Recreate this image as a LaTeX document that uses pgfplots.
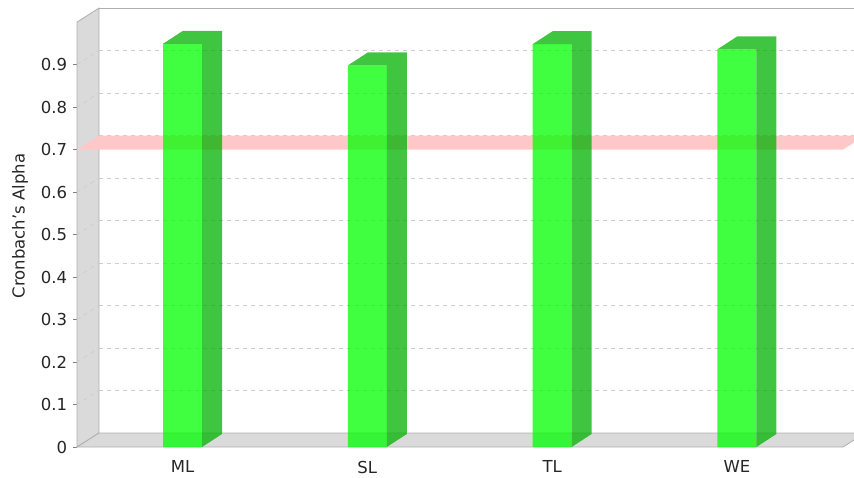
\documentclass[border=0pt]{standalone}
\usepackage{pgfplots}
\usepackage{pgfplotstable}
\pgfplotsset{compat=1.18}
\usepackage{fontspec}
\setmainfont{DejaVu Sans}
\definecolor{wallfill}{RGB}{218,218,218}
\definecolor{walledge}{RGB}{175,175,175}
\definecolor{bandpink}{RGB}{255,200,200}
\definecolor{barfront}{RGB}{0,255,0}
\definecolor{barside}{RGB}{0,178,0}
\definecolor{gridc}{RGB}{205,205,205}
\pgfplotstableread{
x v
0 0.949
1 0.898
2 0.948
3 0.936
}\cadata
\pgfplotstableread{
x y
-0.571 0.7
3.574 0.7
3.693 0.733
-0.452 0.733
}\banddata
\newcommand{\chartfont}{\fontsize{8.25}{9.9}\selectfont}
\begin{document}
\chartfont
\begin{tikzpicture}
\path[use as bounding box] (0,0) rectangle (427pt,238.5pt);
\begin{axis}[
  at={(38.5pt,15pt)}, anchor=south west,
  scale only axis, width=383pt, height=212.45pt,
  xmin=-0.571, xmax=3.574, ymin=0, ymax=1,
  clip=false,
  axis lines*=left,
  x axis line style={draw=none},
  y axis line style={draw=walledge},
  xtick={0,1,2,3}, xticklabels={ML,SL,TL,WE},
  xtick style={draw=none},
  ytick={0,0.1,0.2,0.3,0.4,0.5,0.6,0.7,0.8,0.9},
  ytick style={draw=gray},
  tick align=outside, major tick length=2pt,
  ymajorgrids,
  major grid style={draw=gridc, dash pattern=on 2pt off 2pt, shift={(11pt,7pt)}},
  /pgf/number format/assume math mode=true,
  tick label style={font=\chartfont, text=black!85},
  xticklabel style={yshift=-2pt},
  ylabel={Cronbach's Alpha},
  ylabel style={at={(axis description cs:-0.0744,0.52)}, anchor=center, font=\chartfont, text=black!85},
]
% walls
\fill[wallfill, draw=walledge] (rel axis cs:0,0) -- (rel axis cs:0,1) -- ([shift={(11pt,7pt)}]rel axis cs:0,1) -- ([shift={(11pt,7pt)}]rel axis cs:0,0) -- cycle;
\fill[wallfill, draw=walledge] (rel axis cs:0,0) -- (rel axis cs:1,0) -- ([shift={(11pt,7pt)}]rel axis cs:1,0) -- ([shift={(11pt,7pt)}]rel axis cs:0,0) -- cycle;
\draw[walledge] ([shift={(11pt,7pt)}]rel axis cs:0,1) -- ([shift={(11pt,7pt)}]rel axis cs:1,1) -- ([shift={(11pt,7pt)}]rel axis cs:1,0);
\pgfplotsinvokeforeach{0.1,0.2,0.3,0.4,0.5,0.6,0.8,0.9}{
  \draw[gridc, dash pattern=on 2pt off 2pt] (axis cs:-0.571,#1) -- ([shift={(11pt,7pt)}]axis cs:-0.571,#1);
}
% reference band at 0.7
\addplot[fill=bandpink, draw=none] table[x=x,y=y]{\banddata} -- cycle;
% bars: front faces
\addplot[ybar, bar width=19.5pt, bar shift=0pt, fill=barfront, fill opacity=0.75, draw=none] table[x=x,y=v]{\cadata};
% bars: top and side faces
\addplot[scatter, only marks, mark=*, mark size=0.01pt, mark options={draw opacity=0, fill opacity=0},
  visualization depends on={rawy \as \val},
  scatter/@pre marker code/.code={%
    \fill[barside, fill opacity=0.75] (-9.75pt,0pt) -- (9.75pt,0pt) -- (9.75pt,{-\val*212.45pt}) -- (19.75pt,{6.5pt-\val*212.45pt}) -- (19.75pt,6.5pt) -- (0.25pt,6.5pt) -- cycle;
  },
  scatter/@post marker code/.code={},
] table[x=x,y=v]{\cadata};
\end{axis}
\end{tikzpicture}
\end{document}
